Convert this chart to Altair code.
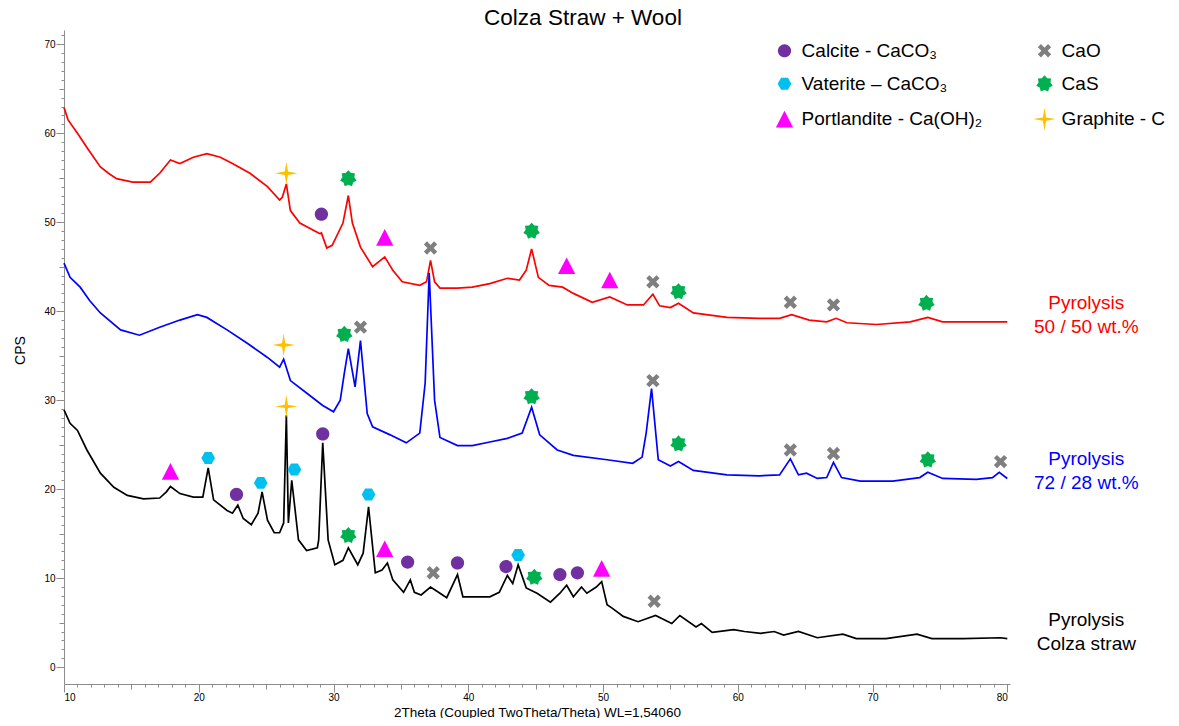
import math
import altair as alt
import pandas as pd

# ---------------- data ----------------
red_x = [10.0, 10.3, 11.0, 11.7, 12.7, 13.3, 13.9, 15.1, 16.4, 17.1, 17.9, 18.6, 19.6, 20.6, 21.6,
         22.5, 23.8, 25.1, 26.0, 26.2, 26.5, 26.8, 27.5, 29.0, 29.1, 29.5, 29.9, 30.7, 31.1, 31.4,
         32.0, 32.9, 33.8, 34.4, 35.1, 36.4, 36.9, 37.2, 37.5, 37.9, 39.2, 40.3, 41.6, 42.9, 43.8,
         44.3, 44.7, 45.2, 46.0, 47.0, 47.8, 49.2, 50.5, 51.8, 53.0, 53.7, 54.2, 55.0, 55.6, 56.7,
         59.2, 61.6, 63.1, 64.0, 65.3, 66.6, 67.3, 68.1, 70.3, 72.8, 74.1, 75.2, 77.7, 80.0]
red_y = [62.9, 61.5, 60.0, 58.4, 56.2, 55.5, 54.9, 54.5, 54.5, 55.5, 57.0, 56.6, 57.3, 57.7, 57.3,
         56.6, 55.5, 54.0, 52.5, 52.8, 54.3, 51.3, 49.9, 48.7, 48.8, 47.1, 47.4, 49.9, 53.0, 49.9,
         47.2, 45.0, 46.1, 44.6, 43.3, 42.9, 43.3, 45.7, 43.3, 42.6, 42.6, 42.7, 43.1, 43.7, 43.5,
         44.6, 47.0, 43.8, 42.9, 42.7, 42.0, 41.0, 41.6, 40.7, 40.7, 41.9, 40.6, 40.4, 40.9, 39.8,
         39.3, 39.2, 39.2, 39.6, 39.0, 38.8, 39.2, 38.7, 38.5, 38.8, 39.3, 38.8, 38.8, 38.8]

blue_x = [10.0, 10.45, 11.2, 11.9, 12.7, 14.2, 15.6, 17.1, 18.6, 19.9, 20.6, 22.1, 23.6, 25.1, 26.0,
          26.3, 26.8, 28.0, 29.2, 30.0, 30.5, 30.8, 31.1, 31.6, 32.0, 32.5, 32.9, 34.2, 35.4, 36.4,
          36.8, 37.1, 37.5, 37.9, 39.2, 40.3, 41.6, 42.9, 44.0, 44.7, 45.3, 46.6, 47.8, 50.3, 52.2,
          52.9, 53.2, 53.6, 54.1, 55.0, 55.6, 56.7, 59.2, 61.6, 63.1, 63.9, 64.5, 65.1, 65.9, 66.6,
          67.1, 67.7, 69.1, 71.5, 73.5, 74.1, 75.2, 77.7, 78.9, 79.4, 80.0]
blue_y = [45.4, 43.8, 42.7, 41.2, 39.8, 37.9, 37.3, 38.2, 39.0, 39.6, 39.3, 37.9, 36.4, 34.8, 33.7,
          34.6, 32.2, 30.8, 29.4, 28.7, 30.0, 33.0, 35.8, 31.5, 36.7, 28.5, 27.0, 26.1, 25.2, 26.3,
          31.9, 44.3, 30.0, 25.8, 24.9, 24.9, 25.3, 25.7, 26.3, 29.2, 26.1, 24.4, 23.8, 23.3, 22.9,
          23.6, 26.3, 31.3, 23.3, 22.6, 23.1, 22.1, 21.6, 21.5, 21.6, 23.4, 21.6, 21.8, 21.2, 21.3,
          23.0, 21.3, 20.9, 20.9, 21.3, 21.9, 21.2, 21.1, 21.3, 21.9, 21.2]

black_x = [10.0, 10.45, 11.0, 11.7, 12.7, 13.7, 14.7, 15.9, 17.1, 17.6, 17.9, 18.6, 19.6, 20.3, 20.7,
           21.1, 22.1, 22.5, 22.9, 23.3, 23.9, 24.4, 24.7, 25.1, 25.6, 26.0, 26.3, 26.5, 26.65, 26.9,
           27.4, 28.0, 28.8, 28.9, 29.2, 29.6, 30.1, 30.7, 31.1, 31.8, 32.2, 32.6, 33.1, 33.6, 34.0,
           34.4, 35.2, 35.7, 36.0, 36.5, 37.2, 37.9, 38.4, 39.2, 39.6, 40.3, 41.6, 42.3, 42.9, 43.3,
           43.7, 44.3, 45.1, 46.1, 46.8, 47.3, 47.8, 48.4, 48.8, 49.5, 49.9, 50.3, 50.7, 51.5, 52.6,
           53.9, 55.1, 55.7, 56.9, 57.3, 58.1, 59.7, 60.5, 61.7, 62.7, 63.4, 64.5, 65.9, 67.8, 68.8,
           71.0, 73.3, 74.4, 76.7, 79.5, 80.0]
black_y = [28.9, 27.4, 26.6, 24.4, 21.8, 20.2, 19.3, 18.9, 19.0, 19.7, 20.3, 19.5, 19.1, 19.1, 22.4,
           18.8, 17.6, 17.3, 18.2, 16.7, 16.0, 17.3, 19.7, 16.5, 15.1, 15.1, 16.2, 28.3, 16.2, 21.0,
           14.3, 13.1, 13.4, 14.3, 25.2, 14.3, 11.5, 12.0, 13.4, 11.5, 12.8, 18.0, 10.6, 10.9, 11.7,
           9.8, 8.4, 9.8, 8.4, 8.1, 9.0, 8.3, 7.8, 10.4, 7.9, 7.9, 7.9, 8.4, 10.3, 9.4,
           11.5, 8.9, 8.3, 7.3, 8.3, 9.2, 7.9, 9.0, 8.3, 9.0, 9.6, 7.0, 6.6, 5.7, 5.1,
           5.8, 4.9, 5.8, 4.5, 4.9, 3.9, 4.2, 4.0, 3.8, 4.0, 3.6, 4.0, 3.3, 3.7, 3.2,
           3.2, 3.7, 3.2, 3.2, 3.3, 3.2]

series_labels = ["Pyrolysis\n50 / 50 wt.%", "Pyrolysis\n72 / 28 wt.%", "Pyrolysis\nColza straw"]
series_colors = ["#ff0000", "#0000ff", "#000000"]
series_xs = [red_x, blue_x, black_x]
series_ys = [red_y, blue_y, black_y]

# legend order (the legend fills column by column)
phases = ["Calcite - CaCO\u2083", "Vaterite \u2013 CaCO\u2083", "Portlandite - Ca(OH)\u2082",
          "CaO", "CaS", "Graphite - C"]
phase_colors = ["#7030a0", "#00c0f0", "#ff00ff", "#7f7f7f", "#00b050", "#ffc000"]

# phase markers: (phase index, 2theta, height)
# 0 calcite, 1 vaterite, 2 portlandite, 3 CaO, 4 CaS, 5 graphite
marker_phase = [5, 0, 4, 2, 3, 4, 2, 2, 3, 4, 3, 3, 4,
                5, 4, 3, 4, 3, 4, 3, 3, 4, 3,
                2, 1, 0, 1, 5, 1, 0, 4, 1, 2, 0, 3, 0, 0, 1, 4, 0, 0, 2, 3]
marker_x = [26.5, 29.1, 31.1, 33.8, 37.2, 44.7, 47.3, 50.5, 53.7, 55.6, 63.9, 67.1, 74.0,
            26.3, 30.8, 32.0, 44.7, 53.7, 55.6, 63.9, 67.1, 74.1, 79.5,
            17.9, 20.7, 22.8, 24.6, 26.5, 27.1, 29.2, 31.1, 32.6, 33.8, 35.5, 37.4, 39.2, 42.8,
            43.7, 44.9, 46.8, 48.1, 49.9, 53.8]
marker_y = [55.5, 50.9, 54.9, 48.3, 47.1, 49.0, 45.1, 43.5, 43.3, 42.2, 41.0, 40.7, 40.9,
            36.2, 37.4, 38.2, 30.4, 32.2, 25.1, 24.4, 24.0, 23.3, 23.1,
            22.0, 23.5, 19.4, 20.7, 29.3, 22.2, 26.2, 14.8, 19.4, 13.3, 11.8, 10.6, 11.7, 11.3,
            12.6, 10.1, 10.4, 10.6, 11.1, 7.4]

x_ticks = list(range(10, 81))
y_ticks = list(range(0, 72))

# ---------------- marker shapes (styles) ----------------
def poly(pts):
    return "M" + " L".join(f"{px:.3f},{py:.3f}" for px, py in pts) + " Z"

def star(n, r_out, r_in, start=-90):
    pts = []
    for i in range(2 * n):
        r = r_out if i % 2 == 0 else r_in
        a = math.radians(start + i * 180.0 / n)
        pts.append((r * math.cos(a), r * math.sin(a)))
    return poly(pts)

rc = 1.08
circle_path = f"M{-rc},0 A{rc},{rc} 0 1,0 {rc},0 A{rc},{rc} 0 1,0 {-rc},0 Z"
hex_path = poly([(1.12 * math.cos(math.radians(60 * i)), 1.12 * math.sin(math.radians(60 * i)))
                 for i in range(6)])
tri_path = poly([(0, -1.36), (1.41, 1.36), (-1.41, 1.36)])
L, w = 1.18, 0.36
plus = [(w, -L), (w, -w), (L, -w), (L, w), (w, w), (w, L), (-w, L), (-w, w), (-L, w), (-L, -w),
        (-w, -w), (-w, -L)]
x_path = poly([((px - py) / math.sqrt(2), (px + py) / math.sqrt(2)) for px, py in plus])
cas_path = star(7, 1.38, 1.0)
graphite_path = star(4, 1.85, 0.38)
phase_shapes = [circle_path, hex_path, tri_path, x_path, cas_path, graphite_path]

FONT = "Liberation Sans"
AXIS_GREY = "#8c8c8c"
tick_cond = {"condition": [{"test": "datum.value % 10 === 0", "value": 8},
                           {"test": "datum.value % 5 === 0", "value": 5}],
             "value": 3}

xenc = alt.X("x:Q", title="2Theta (Coupled TwoTheta/Theta) WL=1,54060",
             scale=alt.Scale(domain=[10, 80.2], nice=False, zero=False),
             axis=alt.Axis(values=x_ticks, labelExpr="datum.value % 10 === 0 ? datum.label : ''",
                           tickSize=tick_cond, labelOverlap=False, labelFlush=5, labelPadding=0,
                           grid=False, labelFontSize=10, labelFont=FONT, labelColor="black",
                           titleFontSize=13.5, titleFont=FONT, titleFontWeight="normal",
                           titleColor="black", titleBaseline="alphabetic", titleY=32,
                           domainColor=AXIS_GREY, tickColor=AXIS_GREY))
yenc = alt.Y("y:Q", title="CPS",
             scale=alt.Scale(domain=[-1.9, 71.6], nice=False, zero=False),
             axis=alt.Axis(values=y_ticks, labelExpr="datum.value % 10 === 0 ? datum.label : ''",
                           tickSize=tick_cond, labelOverlap=False, labelPadding=1, grid=False,
                           labelFontSize=10, labelFont=FONT, labelColor="black",
                           titleFontSize=14, titleFont=FONT, titleFontWeight="normal",
                           titleColor="black", titlePadding=16, titleY=320,
                           domainColor=AXIS_GREY, tickColor=AXIS_GREY))

layers = []
for lab, col, xs, ys in zip(series_labels, series_colors, series_xs, series_ys):
    df = pd.DataFrame({"x": xs, "y": ys})
    layers.append(alt.Chart(df).mark_line(color=col, strokeWidth=1.7).encode(x=xenc, y=yenc))
    lab_df = pd.DataFrame({"x": [xs[-1]], "y": [ys[-1]], "label": [lab]})
    layers.append(alt.Chart(lab_df).mark_text(
        color=col, font=FONT, fontSize=19, lineBreak="\n", lineHeight=24,
        align="center", baseline="middle", dx=79, dy=-19
    ).encode(x=xenc, y=yenc, text="label:N"))

mk = pd.DataFrame({"x": marker_x, "y": marker_y,
                   "phase": [phases[i] for i in marker_phase]})
leg = alt.Legend(title=None, orient="none", legendX=711, legendY=11, columns=2,
                 columnPadding=50, rowPadding=13.3, labelFontSize=19, labelFont=FONT,
                 labelColor="black", labelOffset=7.6, labelLimit=400, padding=0,
                 symbolSize=150, symbolStrokeWidth=0, symbolOpacity=1)
layers.append(alt.Chart(mk).mark_point(filled=True, size=150, opacity=1, strokeWidth=0).encode(
    x=xenc, y=yenc,
    color=alt.Color("phase:N", scale=alt.Scale(domain=phases, range=phase_colors), legend=leg),
    shape=alt.Shape("phase:N", scale=alt.Scale(domain=phases, range=phase_shapes), legend=leg),
))

chart = alt.layer(*layers).properties(
    width=946, height=654,
    title=alt.TitleParams("Colza Straw + Wool", fontSize=22.5, font=FONT, fontWeight="normal",
                          color="black", anchor="middle", frame="group", dx=46, offset=-17,
                          baseline="alphabetic"),
    autosize=alt.AutoSizeParams(type="none"),
    padding={"left": 56, "top": 22, "right": 161, "bottom": 34},
).configure_view(stroke=None)

chart.save("out.html", embed_options={"renderer": "svg", "actions": False})
